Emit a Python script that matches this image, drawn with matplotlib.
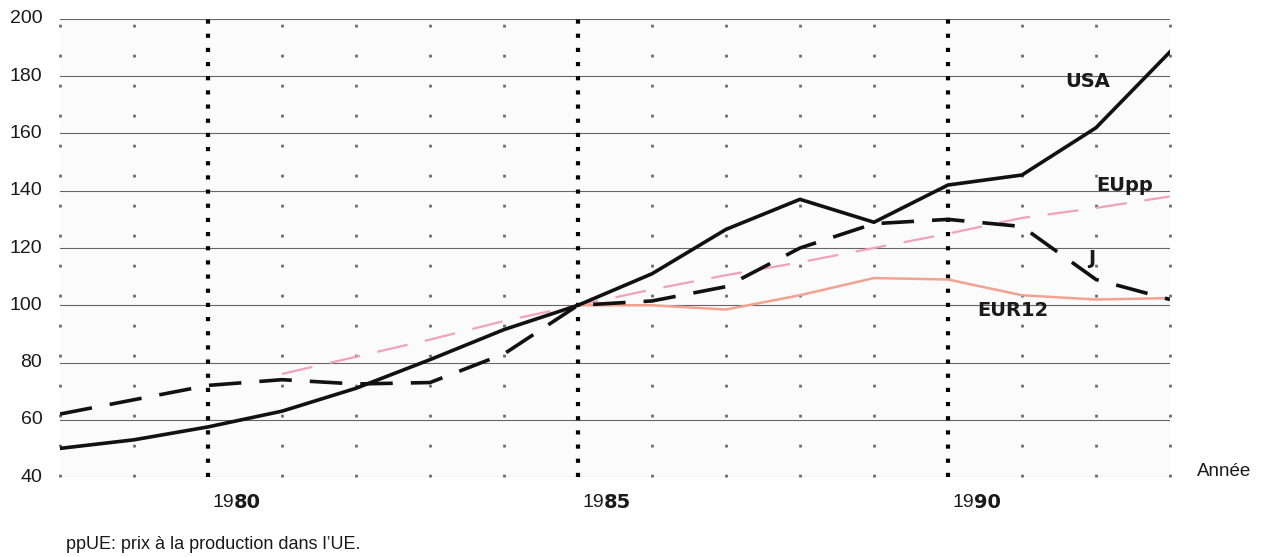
import matplotlib.pyplot as plt
import matplotlib.transforms as mtransforms

# ── data (index values, 1985 = 100) ─────────────────────────────────────────
years = list(range(1978, 1994))
usa = [50, 53, 57.5, 63, 71, 81, 91.5, 100, 111, 126.5, 137, 129, 142, 145.5, 162, 188.5]
japan = [62, 67, 72, 74, 72.5, 73, 83, 100, 101.5, 106.5, 120, 128.5, 130, 127.5, 109, 102]

eupp_years = list(range(1981, 1994))
eupp = [76, 82, 88, 94.5, 100, 105.5, 110.5, 115, 120, 125, 130.5, 134, 138]

eur12_years = list(range(1985, 1994))
eur12 = [100, 100, 98.5, 103.5, 109.5, 109, 103.5, 102, 102.5]

y_ticks = [40, 60, 80, 100, 120, 140, 160, 180, 200]
major_years = [1980, 1985, 1990]

# ── figure ──────────────────────────────────────────────────────────────────
plt.rcParams['font.family'] = ['Liberation Sans', 'DejaVu Sans']
fig = plt.figure(figsize=(12.61, 5.57), dpi=100, facecolor="white")
ax = fig.add_axes([0.0476, 0.1436, 0.8802, 0.8223])
ax.set_facecolor("#fbfbfb")
ax.set_xlim(1978, 1993)
ax.set_ylim(40, 200)
for s in ax.spines.values():
    s.set_visible(False)
ax.set_xticks([])
ax.set_yticks([])

# horizontal grid
for y in y_ticks:
    ax.axhline(y, color="#666666", lw=0.8, zorder=1)

# vertical dotted grid (one per year, heavy on 1980/85/90)
for yr in years:
    if yr in major_years:
        ax.plot([yr, yr], [40, 200], color="black", lw=3.0,
                linestyle=(0, (1, 2.4)), dash_capstyle="butt",
                zorder=2, clip_on=False)
    else:
        ax.plot([yr, yr], [40, 200], color="#6a6a6a", lw=2.0,
                linestyle=(0, (1, 9.8)), dash_capstyle="butt",
                zorder=2, clip_on=False)

# ── series ──────────────────────────────────────────────────────────────────
ax.plot(eur12_years, eur12, color="#f3a290", lw=1.8, zorder=3)
ax.plot(eupp_years, eupp, color="#f2a2b6", lw=1.6, dashes=(14, 8), zorder=3)
ax.plot(years, japan, color="#111111", lw=2.6, dashes=(9, 5), zorder=4)
ax.plot(years, usa, color="#111111", lw=2.6, zorder=5)

# series labels
lab = dict(fontsize=14, fontweight="heavy", color="#1a1a1a",
           family=['DejaVu Sans'], ha="left", va="center")
ax.text(1991.58, 178, "USA", **lab)
ax.text(1992.0, 142, "EUpp", **lab)
ax.text(1991.9, 116.5, "J", **lab)
ax.text(1990.4, 98.3, "EUR12", **lab)

# y tick labels
for y in y_ticks:
    ax.text(-0.016, y, str(y), transform=ax.get_yaxis_transform(),
            ha="right", va="center", fontsize=14, color="#1a1a1a")

# x tick labels: "19" regular + "80" bold
xt = mtransforms.blended_transform_factory(ax.transData, fig.transFigure)
for yr in major_years:
    ax.text(yr + 0.35, 0.098, "19", transform=xt, ha="right", va="center",
            fontsize=14, color="#1a1a1a")
    ax.text(yr + 0.35, 0.098, str(yr)[2:], transform=xt, ha="left", va="center",
            fontsize=14, fontweight="heavy", color="#1a1a1a", family=['DejaVu Sans'])

fig.text(0.949, 0.153, "Année", ha="left", va="center", fontsize=13.5, color="#1a1a1a")
fig.text(0.052, 0.022, "ppUE: prix à la production dans l’UE.", ha="left",
         va="center", fontsize=13, color="#1a1a1a")

fig.savefig("out.png", dpi=100, facecolor="white")
